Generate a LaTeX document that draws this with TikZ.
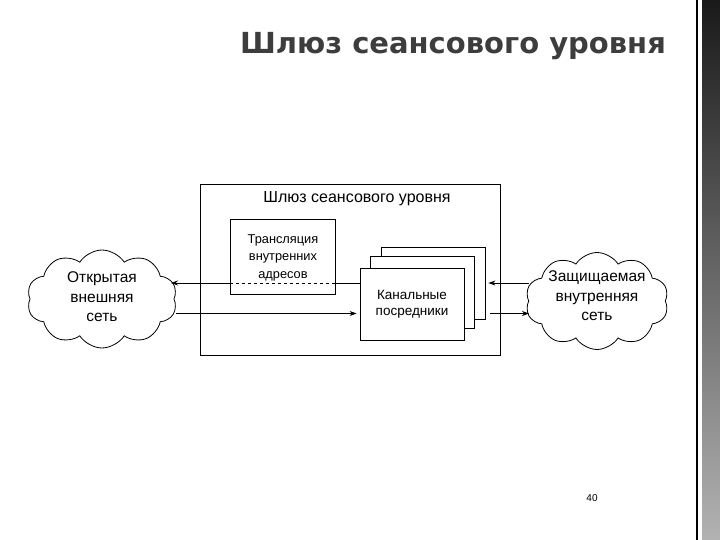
\documentclass[tikz,border=0pt]{standalone}
\usepackage{fontspec}
\setmainfont{Liberation Sans}
\newfontfamily\titlefont{DejaVu Sans}
\usetikzlibrary{shapes.symbols,arrows.meta}

\begin{document}
\begin{tikzpicture}[x=1pt,y=-1pt,
    net/.style={cloud, cloud puffs=10, cloud puff arc=115, cloud ignores aspect, draw, thick,
        minimum width=150pt, minimum height=98pt},
    nettext/.style={align=center, font=\fontsize{15.5}{19.5}\selectfont},
    box/.style={draw, thick, fill=white, minimum width=104pt, minimum height=72pt},
    arr/.style={-{Stealth[length=7pt,width=5pt]}, thick}]
    \useasboundingbox (0,0) rectangle (720,540);

    % Title
    \node[font=\titlefont\bfseries\fontsize{29}{33}\selectfont, text=black!76] (title) at (453,46) {Шлюз сеансового уровня};

    % Right edge strip
    \draw[line width=1.6pt] (697,0) -- (697,540);
    \shade[top color=black!90, bottom color=black!30] (702,0) rectangle (720,540);

    % Gateway frame
    \node[draw, thick, minimum width=300pt, minimum height=171pt] (gw) at (350,269.5) {};
    \node[font=\fontsize{16}{19}\selectfont] (gwlabel) at (357,199) {Шлюз сеансового уровня};

    % Address translation
    \node[draw, thick, minimum width=105pt, minimum height=75pt] (tr) at (282.5,256.5) {};
    \node[align=center, font=\fontsize{12.8}{17.5}\selectfont] (trtext) at (283,257.5) {Трансляция\\внутренних\\адресов};

    % Channel proxies (stack)
    \node[box] (back) at (433,283) {};
    \node[box] (mid) at (422.5,292.5) {};
    \node[box, align=center, font=\fontsize{13.5}{16}\selectfont] (front) at (412,304) {Канальные\\посредники};

    % Networks
    \node[net] (lnet) at (102,299) {};
    \node[nettext] (ltext) at (102,297) {Открытая\\внешняя\\сеть};
    \node[net, minimum width=143pt, minimum height=97pt] (rnet) at (597,301) {};
    \node[nettext] (rtext) at (597,296) {Защищаемая\\внутренняя\\сеть};

    % Connectors
    \coordinate (lin) at (171,283);
    \coordinate (lout) at (176,313.5);
    \coordinate (rin) at (529,313.5);
    \coordinate (rout) at (529,283);
    \draw[thick] (front.west |- lin) -- (tr.east |- lin);
    \draw[thick, dashed] (tr.east |- lin) -- (tr.west |- lin);
    \draw[arr] (tr.west |- lin) -- (lin);
    \draw[arr] (lout) -- ([xshift=-3pt]front.west |- lout);
    \draw[arr] (rout) -- ([xshift=3pt]back.east |- rout);
    \draw[arr] ([xshift=5pt]back.east |- rin) -- (rin);

    % Page number
    \node[font=\fontsize{10}{12}\selectfont] (page) at (592,498) {40};
\end{tikzpicture}
\end{document}
